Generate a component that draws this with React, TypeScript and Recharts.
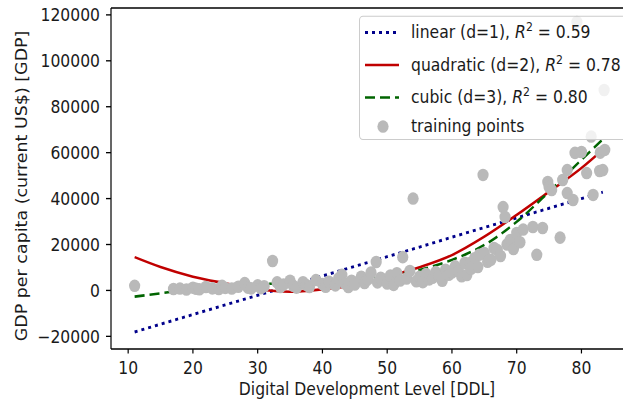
import React from "react";
import { ComposedChart, Line, Scatter, XAxis, YAxis, ReferenceLine } from "recharts";

// training points: [DDL, GDP per capita]
const trainX = [
  11, 17, 18, 19, 20, 20.5, 21, 22, 23, 24, 24.5, 25, 26, 27, 28, 28.5, 29, 30, 30.5, 31,
  32.3, 33, 33.5, 34, 35, 35.5, 36, 37, 37.5, 38, 39, 40, 40.5, 41, 42, 42.5, 43, 43.5, 44,
  44.5, 45, 46, 46.5, 47, 47.5, 48.3, 48.5, 49, 50, 50.5, 51, 51.5, 52, 52.4, 53, 53.5, 54,
  54.5, 55, 55.5, 56, 56.5, 57, 57.5, 58, 58.5, 59, 59.5, 60, 60.5, 61, 61.5, 62, 62.3,
  62.8, 63, 63.5, 64, 64.2, 64.8, 65, 65.5, 66, 66.5, 67, 67.5, 67.9, 68.2, 68.5, 69, 69.5,
  70, 70.5, 71, 72.5, 73.1, 74, 74.8, 75, 75.4, 76.7, 77.1, 77.8, 77.8, 78.7, 79, 79.3, 80,
  80.8, 81.5, 81.8, 82.8, 82.9, 83.3, 83.5, 83.6,
];
const trainY = [
  2000, 600, 800, 400, 1200, 700, 500, 1500, 900, 600, 2000, 1100, 800, 1600, 3200, 1200,
  900, 2200, 1000, 1800, 12800, 3500, 1500, 2600, 4200, 2000, 1200, 3600, 2400, 1500, 4500,
  2800, 1600, 3800, 2200, 5200, 6800, 3000, 1500, 4200, 2600, 6000, 3200, 4800, 7800, 12400,
  3500, 5500, 3000, 6500, 2400, 7500, 4300, 14500, 5200, 8500, 40000, 4000, 6000, 3600, 7200,
  4800, 5500, 8000, 6400, 4200, 9000, 6800, 7800, 10500, 8500, 6200, 12000, 6700, 11900,
  9500, 14000, 10200, 15500, 50300, 16300, 12500, 13300, 18500, 17600, 15000, 36300, 32000,
  20000, 22000, 18000, 25000, 21000, 26500, 27600, 15500, 27200, 47200, 45000, 43700, 23000,
  48100, 42400, 52400, 39400, 59900, 116900, 60300, 51100, 67000, 41600, 52000, 60000, 52400,
  87300, 61200,
];

// fitted curves at these DDL values
const fitX = [11, 15, 20, 25, 30, 35, 40, 45, 50, 55, 60, 65, 70, 75, 80, 83.3];
const linearY = [
  -18100, -14700, -10500, -6300, -2100, 2100, 6300, 10500, 14700, 18900, 23200, 27400,
  31600, 35800, 40000, 42800,
];
const quadraticY = [
  14500, 10200, 6000, 3100, 500, -550, 500, 2400, 6000, 10100, 15400, 23400, 32900, 43000,
  53300, 61300,
];
const cubicY = [
  -2700, -1250, 500, 1600, 2700, 3200, 3800, 4500, 6000, 8900, 13300, 19800, 29900, 43000,
  56900, 65800,
];

const xTicks = [10, 20, 30, 40, 50, 60, 70, 80];
const yTicks = [-20000, 0, 20000, 40000, 60000, 80000, 100000, 120000];

const points = trainX.map((x, i) => ({ x, y: trainY[i] }));
const fits = fitX.map((x, i) => ({
  x,
  lin: linearY[i],
  quad: quadraticY[i],
  cub: cubicY[i],
}));

const FONT = "'DejaVu Sans', sans-serif";
const TXT = "#1a1a1a";
const FS = 15.6;
// the reference picture is a bit stretched vertically; draw at this height and scale up
const SY = 1.12;
const H = 401 / SY;

// matplotlib writes negative ticks with a real minus sign
const fmtTick = (v: number) => String(v).replace("-", "\u2212");

function Dot(props: any) {
  const { cx, cy } = props;
  if (cx == null || cy == null) return null;
  return <circle cx={cx} cy={cy} r={5.6} fill="#b9b9b9" />;
}

function R2({ v }: { v: string }) {
  return (
    <span>
      <i>R</i>
      <sup style={{ fontSize: "0.7em", verticalAlign: "0.55em", lineHeight: 0 }}>2</sup>
      {" = " + v}
    </span>
  );
}

function FitLegend() {
  const rows = [
    {
      key: "lin",
      h: 28,
      sample: <line x1={2} x2={36} y1={8} y2={8} stroke="#00008b" strokeWidth={2.6} strokeDasharray="3 4" />,
      label: <>linear (d=1), <R2 v="0.59" /></>,
    },
    {
      key: "quad",
      h: 29.5,
      sample: <line x1={2} x2={36} y1={8} y2={8} stroke="#c00000" strokeWidth={2.3} />,
      label: <>quadratic (d=2), <R2 v="0.78" /></>,
    },
    {
      key: "cub",
      h: 28.5,
      sample: <line x1={2} x2={36} y1={8} y2={8} stroke="#006400" strokeWidth={2.3} strokeDasharray="10 5" />,
      label: <>cubic (d=3), <R2 v="0.80" /></>,
    },
    {
      key: "pts",
      h: 22.5,
      sample: <circle cx={20} cy={8} r={5.6} fill="#b9b9b9" />,
      label: <>training points</>,
    },
  ];
  return (
    <div
      style={{
        position: "absolute",
        left: 359,
        top: 14.3,
        boxSizing: "border-box",
        width: 268,
        height: 111,
        padding: 0,
        paddingLeft: 3,
        background: "rgba(255,255,255,0.8)",
        border: "1px solid #cccccc",
        borderRadius: 4,
        fontFamily: FONT,
        fontSize: FS,
        color: TXT,
      }}
    >
      {rows.map((r) => (
        <div key={r.key} style={{ display: "flex", alignItems: "center", height: r.h }}>
          <svg width={48} height={16} style={{ flexShrink: 0 }}>
            {r.sample}
          </svg>
          <span style={{ whiteSpace: "nowrap" }}>{r.label}</span>
        </div>
      ))}
    </div>
  );
}

export default function App() {
  return (
    <div
      style={{
        position: "absolute",
        left: 0,
        top: 0,
        width: 623,
        height: 401,
        overflow: "hidden",
        background: "#fff",
      }}
    >
      <div
        style={{
          position: "relative",
          width: 640,
          height: H,
          transform: `scale(1, ${SY})`,
          transformOrigin: "0 0",
        }}
      >
        <ComposedChart
          width={640}
          height={H}
          data={fits}
          margin={{ top: 7.14, right: 9, bottom: H - 311.6 - 30, left: 51 }}
          style={{ fontFamily: FONT }}
        >
          <XAxis
            dataKey="x"
            type="number"
            domain={[7.35, 87.65]}
            allowDataOverflow
            ticks={xTicks}
            height={30}
            tickSize={4}
            tickMargin={7.5}
            stroke="#000"
            strokeWidth={1.2}
            tick={{ fill: TXT, fontSize: FS, fontFamily: FONT }}
            label={{
              content: () => (
                <text x={367} y={353} textAnchor="middle" fill={TXT} fontSize={FS} fontFamily={FONT}>
                  Digital Development Level [DDL]
                </text>
              ),
            }}
          />
          <YAxis
            type="number"
            domain={[-25500, 123000]}
            allowDataOverflow
            ticks={yTicks}
            tickFormatter={fmtTick}
            width={60}
            tickSize={5}
            tickMargin={6}
            stroke="#000"
            strokeWidth={1.2}
            tick={{ fill: TXT, fontSize: FS, fontFamily: FONT }}
            label={{
              content: () => (
                <text
                  x={22}
                  y={166}
                  transform="rotate(-90, 22, 166)"
                  textAnchor="middle"
                  dominantBaseline="central"
                  fill={TXT}
                  fontSize={FS}
                  fontFamily={FONT}
                >
                  GDP per capita (current US$) [GDP]
                </text>
              ),
            }}
          />
          <ReferenceLine y={123000} stroke="#000" strokeWidth={1.2} />
          <Scatter data={points} dataKey="y" shape={<Dot />} isAnimationActive={false} />
          <Line
            dataKey="lin"
            type="linear"
            stroke="#00008b"
            strokeWidth={2.6}
            strokeDasharray="3 4"
            dot={false}
            isAnimationActive={false}
          />
          <Line
            dataKey="quad"
            type="monotone"
            stroke="#c00000"
            strokeWidth={2.3}
            dot={false}
            isAnimationActive={false}
          />
          <Line
            dataKey="cub"
            type="monotone"
            stroke="#006400"
            strokeWidth={2.3}
            strokeDasharray="10 5"
            dot={false}
            isAnimationActive={false}
          />
        </ComposedChart>
        <FitLegend />
      </div>
    </div>
  );
}
